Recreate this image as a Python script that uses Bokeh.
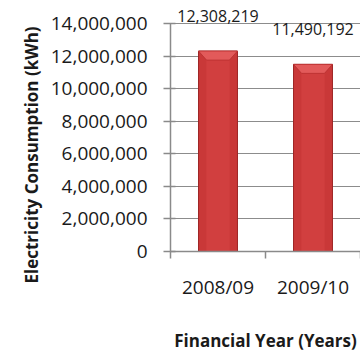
from bokeh.plotting import figure
from bokeh.models import (Range1d, FixedTicker, SingleIntervalTicker, NumeralTickFormatter,
                          ColumnDataSource, LabelSet, Title)
from bokeh.core.properties import value
from bokeh.embed import file_html
from bokeh.resources import INLINE

categories = ["2008/09", "2009/10"]
consumption = [12308219, 11490192]
value_labels = ["12,308,219", "11,490,192"]
y_title = "Electricity Consumption (kWh)"
x_title = "Financial Year (Years)"

FONT = "Open Sans"
TXT = "#1a1a1a"
GREY = "#8a8a8a"
n = len(categories)
centers = [i + 0.5 for i in range(n)]
bw = 0.41
YMAX = 14000000
px_y = YMAX / 228.0        # data units per pixel (y)
px_x = 1.0 / 95.0          # data units per pixel (x)

p = figure(width=360, height=355, output_backend="svg", toolbar_location=None,
           x_range=Range1d(0, 190 * px_x), y_range=Range1d(0, YMAX + 21 * px_y),
           min_border_left=170, min_border_top=2, min_border_bottom=104, min_border_right=0)
p.outline_line_color = None
p.background_fill_color = "white"
p.border_fill_color = "white"

# bars
src = ColumnDataSource(dict(x=centers, top=consumption, lab=value_labels))
p.vbar(x="x", top="top", width=bw, source=src, fill_color="#C93838",
       line_color="#9E2424", line_width=1)
p.vbar(x="x", top="top", bottom=0, width=bw * 0.6, source=src,
       fill_color="#D13F3F", line_color=None)
bev_h = 9 * px_y
inset = 8 * px_x
xs, ys = [], []
for c, v in zip(centers, consumption):
    xs.append([c - bw / 2, c + bw / 2, c + bw / 2 - inset, c - bw / 2 + inset])
    ys.append([v, v, v - bev_h, v - bev_h])
p.patches(xs, ys, fill_color="#E25A5A", line_color="#B83030", line_width=0.8)

labels = LabelSet(x="x", y="top", text="lab", source=src, y_offset=35,
                  text_align="center", text_baseline="middle",
                  text_font=value(FONT), text_font_size=value("16px"), text_color=TXT)
p.add_layout(labels)

# y axis
yax = p.yaxis[0]
yax.bounds = (0, YMAX)
yax.ticker = SingleIntervalTicker(interval=2000000)
yax.formatter = NumeralTickFormatter(format="0,0")
yax.axis_line_color = GREY
yax.axis_line_width = 1.5
yax.major_tick_line_color = GREY
yax.major_tick_line_width = 1.5
yax.major_tick_in = 5
yax.major_tick_out = 7
yax.minor_tick_line_color = None
yax.major_label_text_font = FONT
yax.major_label_text_font_size = "19px"
yax.major_label_text_color = TXT
yax.major_label_standoff = 16

# y title, starting below the frame bottom as in the original
p.add_layout(Title(text=y_title, align="left", offset=-32, standoff=9,
                   text_font=FONT, text_font_style="bold", text_font_size="17px",
                   text_color=TXT), "left")

# x axis
xax = p.xaxis[0]
xax.ticker = FixedTicker(ticks=centers, minor_ticks=list(range(n + 1)))
xax.major_label_overrides = {c: cat for c, cat in zip(centers, categories)}
xax.axis_line_color = GREY
xax.axis_line_width = 1.5
xax.major_tick_line_color = None
xax.minor_tick_line_color = GREY
xax.minor_tick_line_width = 1.5
xax.minor_tick_in = 0
xax.minor_tick_out = 7
xax.major_label_text_font = FONT
xax.major_label_text_font_size = "19px"
xax.major_label_text_color = TXT
xax.major_label_standoff = 15
xax.axis_label = x_title
xax.axis_label_text_font = FONT
xax.axis_label_text_font_style = "bold"
xax.axis_label_text_font_size = "17px"
xax.axis_label_text_color = TXT
xax.axis_label_standoff = 26

p.xgrid.grid_line_color = None
p.ygrid.grid_line_color = "#8c8c8c"
p.ygrid.grid_line_width = 1.2

open("out.html", "w").write(file_html(p, INLINE))
